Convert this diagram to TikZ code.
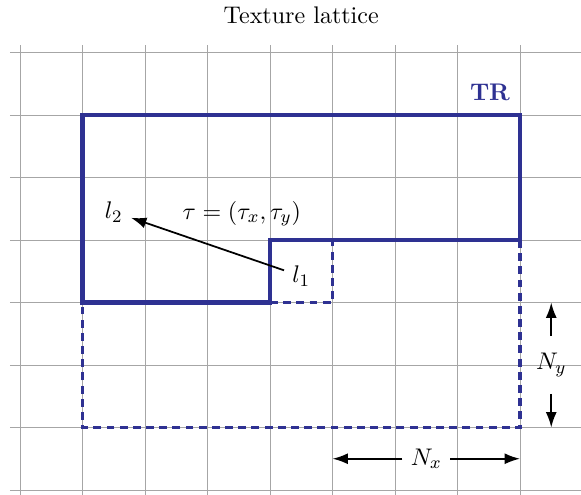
\documentclass[tikz,border=0pt,11pt]{standalone}
\usepackage{amsmath,amssymb}
\usepackage{xcolor}
\usepackage{tikz}
\usetikzlibrary{arrows.meta,positioning}
\definecolor{latblue}{RGB}{46,49,146}

\begin{document}
\begin{tikzpicture}[x=1cm, y=1cm,
  region/.style={latblue, line width=1.9pt},
  shifted/.style={latblue, line width=1.5pt, dash pattern=on 3.6pt off 2.4pt},
  dimarrow/.style={-{Latex[length=7pt,width=5pt]}, thick}]
\useasboundingbox (-0.32,-0.08) rectangle (8.976,7.84);
\draw[gray!70, line width=0.4pt, step=1] (-0.16,-0.5) grid (9.5,7.12);
\node (title) at (4.5,7.6) {Texture lattice};
% texture region and its shifted copy
\draw[region] (1,3) -- (1,6) -- (8,6) -- (8,4) -- (4,4) -- (4,3) -- cycle;
\draw[shifted] (4,3) -- (5,3) -- (5,4);
\draw[shifted] (8,4) -- (8,1) -- (1,1) -- (1,3);
\node[latblue, font=\bfseries] (tr) at (7.52,6.36) {TR};
\node (l2) at (1.5,4.45) {$l_2$};
\node (l1) at (4.5,3.42) {$l_1$};
\node (tau) at (3.55,4.42) {$\tau=(\tau_x,\tau_y)$};
\draw[dimarrow] (l1) -- (l2);
% sizes
\node (nx) at (6.5,0.5) {$N_x$};
\coordinate (nxl) at (5,0.5);
\coordinate (nxr) at (8,0.5);
\draw[dimarrow] (nx) -- (nxl);
\draw[dimarrow] (nx) -- (nxr);
\node (ny) at (8.5,2) {$N_y$};
\coordinate (nyt) at (8.5,3);
\coordinate (nyb) at (8.5,1);
\draw[dimarrow, shorten <=4pt] (ny) -- (nyt);
\draw[dimarrow, shorten <=4pt] (ny) -- (nyb);
\end{tikzpicture}
\end{document}
